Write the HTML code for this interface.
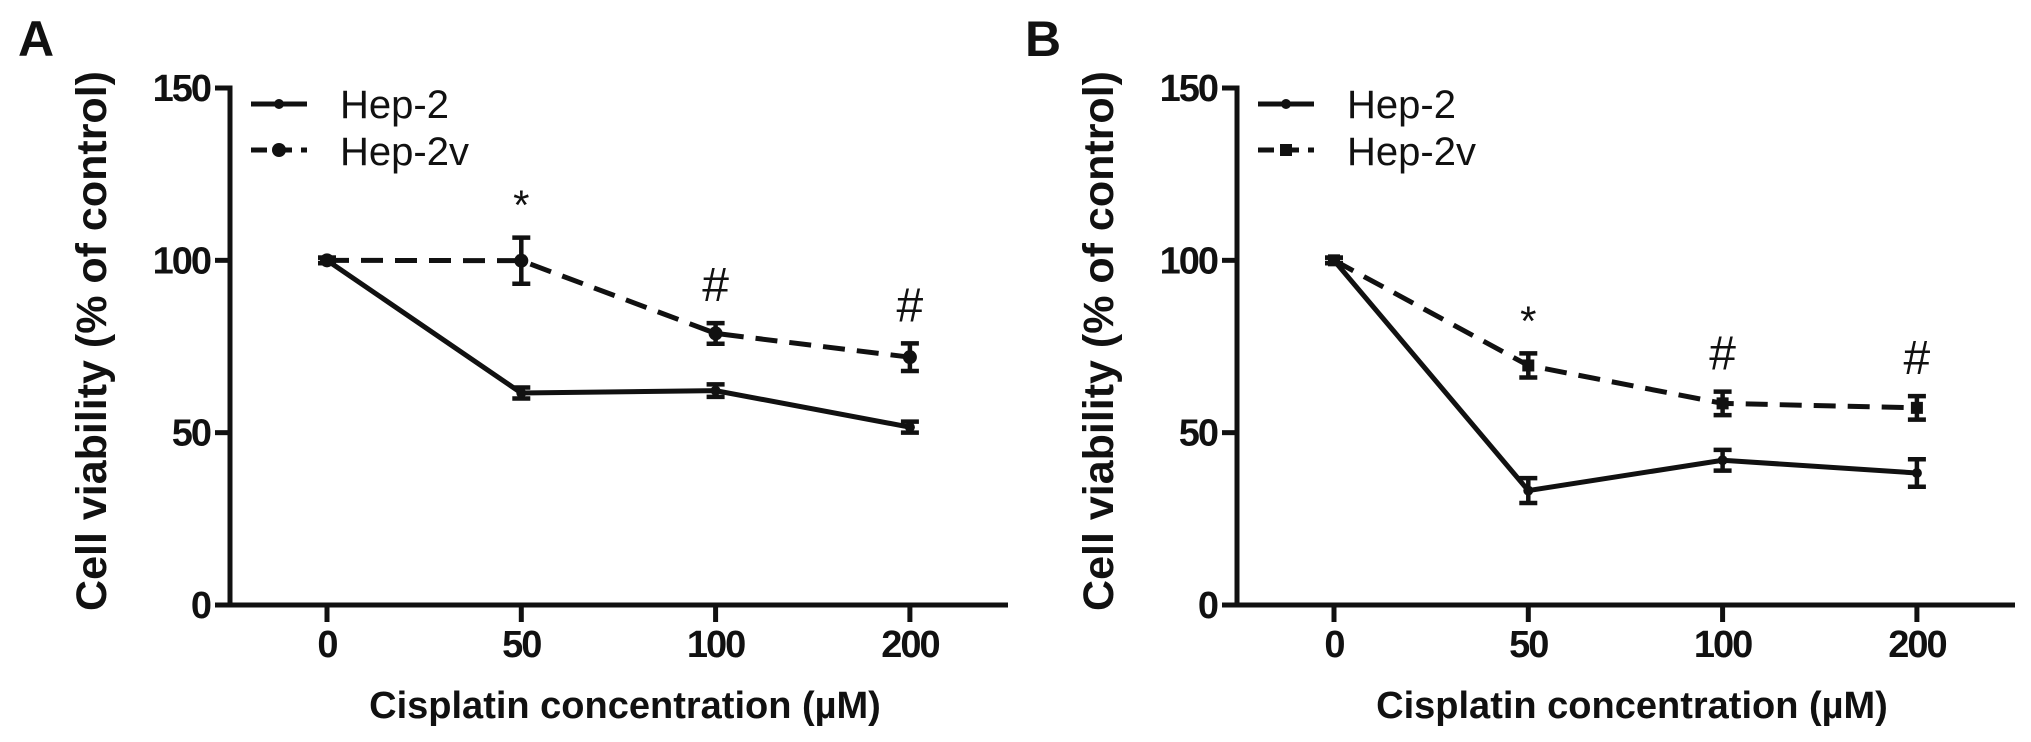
<!DOCTYPE html>
<html><head><meta charset="utf-8"><style>
html,body{margin:0;padding:0;background:#fff;}
svg{display:block;}
text{font-family:"Liberation Sans",Arial,sans-serif;fill:#111;}
</style></head>
<body>
<svg id="chart" width="2031" height="742" viewBox="0 0 2031 742" xmlns="http://www.w3.org/2000/svg"></svg>
<script>
const categories = ["0", "50", "100", "200"];
const yTicks = [0, 50, 100, 150];
const seriesNames = ["Hep-2", "Hep-2v"];
const aHep2 = [100, 61.5, 62.2, 51.6];
const aHep2Err = [0.8, 1.6, 1.8, 1.6];
const aHep2v = [100, 99.9, 78.8, 71.9];
const aHep2vErr = [0.8, 6.7, 3.0, 4.0];
const aMarks = ["", "*", "#", "#"];
const bHep2 = [100, 33.2, 42.0, 38.3];
const bHep2Err = [0.8, 3.6, 3.0, 4.0];
const bHep2v = [100, 69.5, 58.5, 57.2];
const bHep2vErr = [0.8, 3.5, 3.4, 3.4];
const bMarks = ["", "*", "#", "#"];

const svg = document.getElementById('chart');
const NS = 'http://www.w3.org/2000/svg';
function mk(tag, attrs, parent){const e=document.createElementNS(NS,tag);for(const k in attrs)e.setAttribute(k,attrs[k]);(parent||svg).appendChild(e);return e;}

function panel(off, letter, s1, e1, s2, e2, marks, squareMarker){
  const g = mk('g',{});
  
  
  const axX = 230 + off, y0 = 605, y150 = 88;
  const yS = v => y0 - (y0 - y150) * v / 150;
  const xS = i => 327 + off + i * 194.3;
  const lbl = mk('text',{x:18+off,y:56,'font-size':50,'font-weight':'bold'},g); lbl.textContent = letter;
  
  
  const ya = mk('path',{d:`M${axX-15} ${y150}H${axX}V${y0}`,stroke:'#111','stroke-width':5,fill:'none'},g);
  
  
  const xa = mk('line',{x1:215+off,x2:1008+off,y1:y0,y2:y0,stroke:'#111','stroke-width':5},g);
  
  
  yTicks.forEach(v=>{
    const y=yS(v);
    mk('line',{x1:axX-15,x2:axX,y1:y,y2:y,stroke:'#111','stroke-width':5},g);
    const t=mk('text',{x:axX-20,y:y+13,'font-size':38,'font-weight':'bold','text-anchor':'end','letter-spacing':'-2'},g);
    t.textContent=v;
    
    
  });
  categories.forEach((c,i)=>{
    const x=xS(i);
    mk('line',{x1:x,x2:x,y1:y0,y2:y0+17,stroke:'#111','stroke-width':5},g);
    const t=mk('text',{x:x,y:657,'font-size':38,'font-weight':'bold','text-anchor':'middle','letter-spacing':'-2'},g);
    t.textContent=c;
    
    
  });
  const xt=mk('text',{x:625+off,y:718,'font-size':38,'font-weight':'bold','text-anchor':'middle'},g);
  xt.textContent='Cisplatin concentration (\u00b5M)';
  
  
  const yt=mk('text',{x:0,y:0,'font-size':43,'font-weight':'bold','text-anchor':'middle',transform:`translate(${106+off},341) rotate(-90)`},g);
  yt.textContent='Cell viability (% of control)';
  
  
  function series(vals, errs, dashed, name){
    const sg=mk('g',{},g);
    
    
    const d=vals.map((v,i)=>(i?'L':'M')+xS(i)+' '+yS(v)).join('');
    const p={d:d,stroke:'#111','stroke-width':5,fill:'none'};
    if(dashed)p['stroke-dasharray']='22 12';
    mk('path',p,sg);
    vals.forEach((v,i)=>{
      const x=xS(i),yt2=yS(v+errs[i]),yb=yS(v-errs[i]);
      mk('path',{d:`M${x} ${yt2}V${yb}M${x-9} ${yt2}H${x+9}M${x-9} ${yb}H${x+9}`,stroke:'#111','stroke-width':4.5,fill:'none'},sg);
      let m;
      if(dashed&&squareMarker) m=mk('rect',{x:x-6,y:yS(v)-6,width:12,height:12,fill:'#111'},sg);
      else m=mk('circle',{cx:x,cy:yS(v),r:dashed?7:5,fill:'#111'},sg);
      
      
    });
  }
  series(s1,e1,false,seriesNames[0]);
  series(s2,e2,true,seriesNames[1]);
  marks.forEach((m,i)=>{
    if(!m)return;
    const top=yS(s2[i]+e2[i]);
    const t=mk('text',{x:xS(i),y:top-(m=='*'?18:22),'font-size':m=='*'?42:48,'text-anchor':'middle'},g);
    t.textContent=m;
    
    
  });
  const lg=mk('g',{},g);
  
  
  mk('line',{x1:251+off,x2:307+off,y1:104,y2:104,stroke:'#111','stroke-width':5},lg);
  mk('circle',{cx:279+off,cy:104,r:5,fill:'#111'},lg);
  const l1=mk('text',{x:340+off,y:118,'font-size':40},lg); l1.textContent=seriesNames[0];
  
  
  mk('line',{x1:251+off,x2:307+off,y1:150,y2:150,stroke:'#111','stroke-width':5,'stroke-dasharray':'16 9'},lg);
  if(squareMarker) mk('rect',{x:273+off,y:144,width:12,height:12,fill:'#111'},lg);
  else mk('circle',{cx:279+off,cy:150,r:7,fill:'#111'},lg);
  const l2=mk('text',{x:340+off,y:165,'font-size':40},lg); l2.textContent=seriesNames[1];
  
  
}
panel(0,'A',aHep2,aHep2Err,aHep2v,aHep2vErr,aMarks,false);
panel(1007,'B',bHep2,bHep2Err,bHep2v,bHep2vErr,bMarks,true);
</script>
</body></html>
